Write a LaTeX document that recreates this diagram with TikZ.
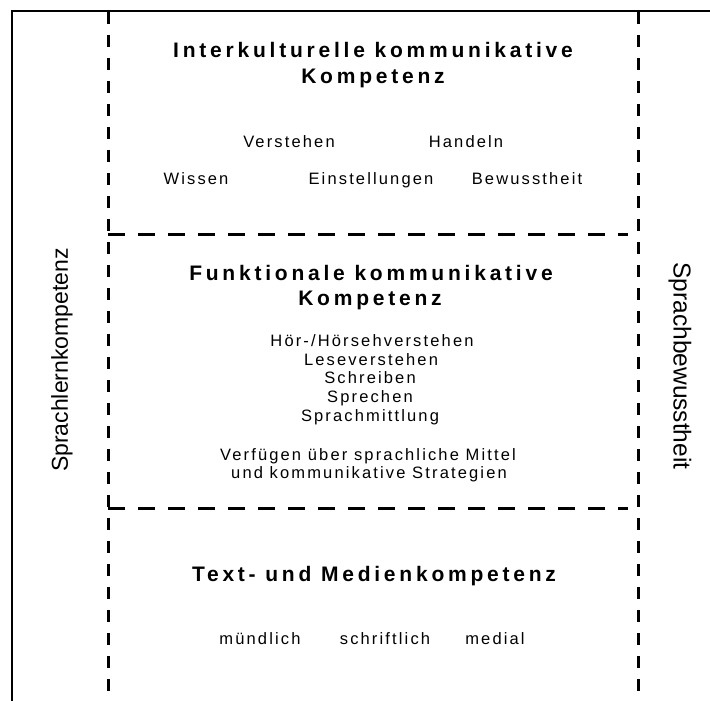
\documentclass[tikz,border=0pt]{standalone}
\usepackage{fontspec}
\setmainfont{Liberation Sans}
\newfontfamily\ttlfont[LetterSpace=18]{Liberation Sans}
\newfontfamily\bodyfont[LetterSpace=13]{Liberation Sans}
\begin{document}
\begin{tikzpicture}[x=1pt,y=-1pt,
  ttl/.style={font=\ttlfont\bfseries\fontsize{21}{24}\selectfont,anchor=base,inner sep=0pt},
  bdy/.style={font=\bodyfont\fontsize{16.5}{19}\selectfont,anchor=base,inner sep=0pt},
  side/.style={font=\fontsize{23}{26}\selectfont,inner sep=0pt},
  vdash/.style={line width=3pt,dash pattern=on 12pt off 11pt},
  hdash/.style={line width=3pt,dash pattern=on 17pt off 13pt},
  frame/.style={line width=2.5pt}]
\useasboundingbox (0,0) rectangle (710,701);
% frame
\draw[frame] (12,701) -- (12,11) -- (710,11);
% dashed lines
\draw[vdash] (108,12) -- (108,701);
\draw[vdash] (638,12) -- (638,701);
\draw[hdash] (108,234) -- (628,234);
\draw[hdash] (108,508) -- (628,508);
% section 1
\node[ttl] (t1a) at (373,58) {Interkulturelle kommunikative};
\node[ttl] (t1b) at (373,84) {Kompetenz};
\node[bdy] (verstehen) at (289,147) {Verstehen};
\node[bdy] (handeln) at (466,147) {Handeln};
\node[bdy] (wissen) at (196,184) {Wissen};
\node[bdy] (einst) at (371,184) {Einstellungen};
\node[bdy] (bew) at (527,184) {Bewusstheit};
% section 2
\node[ttl] (t2a) at (371,280) {Funktionale kommunikative};
\node[ttl] (t2b) at (370,305) {Kompetenz};
\node[bdy] (hoer) at (372,346.5) {Hör-/Hörsehverstehen};
\node[bdy] (lese) at (371,365) {Leseverstehen};
\node[bdy] (schreiben) at (370,383.7) {Schreiben};
\node[bdy] (sprechen) at (370,402.3) {Sprechen};
\node[bdy] (mittlung) at (370,421) {Sprachmittlung};
\node[bdy] (verf) at (368,460) {Verfügen über sprachliche Mittel};
\node[bdy] (strat) at (369,478.5) {und kommunikative Strategien};
% section 3
\node[ttl] (t3) at (374,581) {Text- und Medienkompetenz};
\node[bdy] (muendlich) at (260,644) {mündlich};
\node[bdy] (schriftlich) at (385,644) {schriftlich};
\node[bdy] (medial) at (495,644) {medial};
% side labels
\node[side,rotate=90] (slk) at (62,360) {Sprachlernkompetenz};
\node[side,font=\fontsize{24.5}{27}\selectfont,rotate=-90] (sbw) at (680,366) {Sprachbewusstheit};
\end{tikzpicture}
\end{document}
